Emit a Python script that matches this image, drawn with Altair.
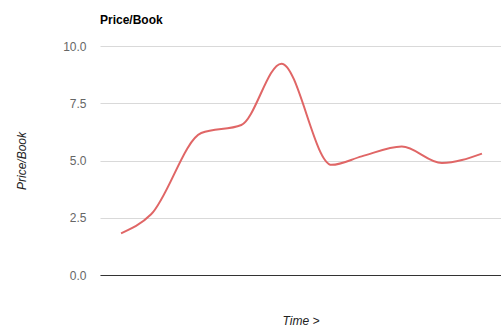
import altair as alt
import pandas as pd

weeks = [0, 3, 8, 12, 16, 21, 24, 28, 32, 36]
price_book = [1.82, 2.65, 6.2, 6.55, 9.23, 4.81, 5.18, 5.61, 4.89, 5.3]
y_ticks = [0, 2.5, 5, 7.5, 10]

df = pd.DataFrame({"t": weeks, "pb": price_book})

FONT = "Liberation Sans"

chart = (
    alt.Chart(df)
    .mark_line(color="#e06666", strokeWidth=2, interpolate="monotone")
    .encode(
        x=alt.X(
            "t:Q",
            scale=alt.Scale(domain=[-2.1, 37.9], nice=False, zero=False),
            axis=alt.Axis(
                title="Time >",
                labels=False,
                ticks=False,
                grid=False,
                domain=True,
                domainColor="#333333",
                domainWidth=1,
                titleFont=FONT,
                titleFontSize=12,
                titleFontStyle="italic",
                titleFontWeight="normal",
                titleColor="#222222",
                titlePadding=40,
            ),
        ),
        y=alt.Y(
            "pb:Q",
            scale=alt.Scale(domain=[0, 10], nice=False),
            axis=alt.Axis(
                title="Price/Book",
                values=y_ticks,
                format=".1f",
                ticks=False,
                domain=False,
                grid=True,
                gridColor="#d9d9d9",
                labelFont=FONT,
                labelFontSize=12,
                labelColor="#666666",
                labelPadding=14,
                titleFont=FONT,
                titleFontSize=12,
                titleFontStyle="italic",
                titleFontWeight="normal",
                titleColor="#222222",
                titlePadding=34,
            ),
        ),
    )
    .properties(
        width=401,
        height=229,
        title=alt.TitleParams(
            "Price/Book",
            anchor="start",
            frame="group",
            font=FONT,
            fontSize=12,
            fontWeight="bold",
            color="#000000",
            offset=13,
        ),
        autosize=alt.AutoSizeParams(type="none"),
        padding={"left": 100, "top": 46, "right": 0, "bottom": 53},
    )
    .configure_view(stroke=None)
)

chart.save("out.html", embed_options={"renderer": "svg", "actions": False})
